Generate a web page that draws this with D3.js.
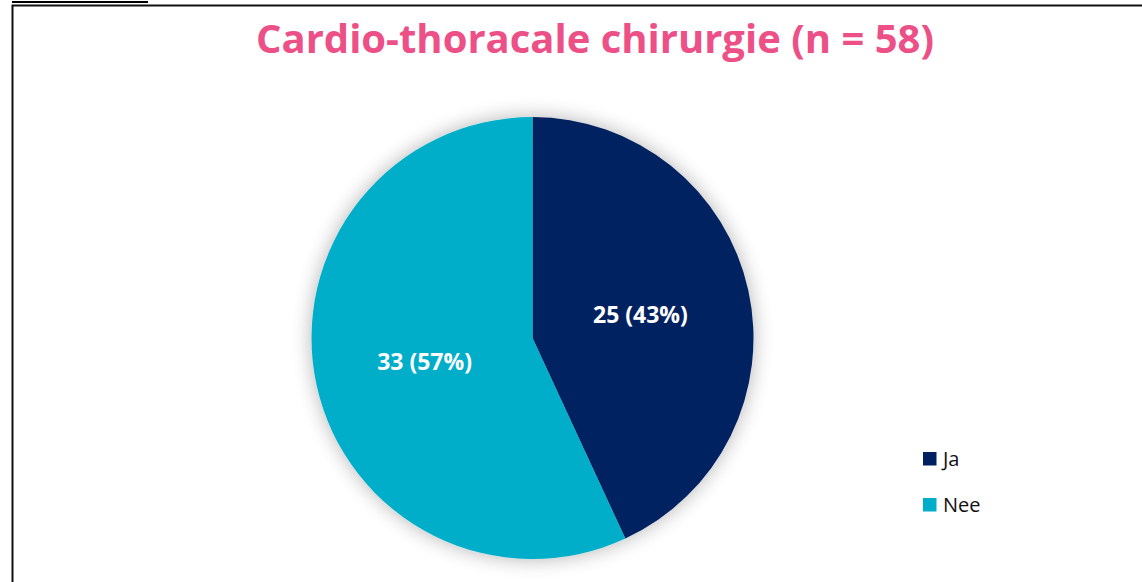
<!DOCTYPE html>
<html>
<head>
<meta charset="utf-8">
<script src="https://cdn.jsdelivr.net/npm/d3@7"></script>
<style>
  body { margin: 0; background: #fff; }
  svg { display: block; }
</style>
</head>
<body>
<script>
// chart data
var categories = ['Ja', 'Nee'];
var counts = [25, 33];
var percents = [43, 57];
var colors = ['#002060', '#00AECA'];
var title = 'Cardio-thoracale chirurgie (n = 58)';

var width = 1142, height = 582;
var cx = 532.5, cy = 338, radius = 221;
var font = '"Open Sans", "Noto Sans", sans-serif';

var svg = d3.select('body').append('svg')
  .attr('width', width).attr('height', height);

var defs = svg.append('defs');
var shadow = defs.append('filter').attr('id', 'glow')
  .attr('x', '-20%').attr('y', '-20%').attr('width', '140%').attr('height', '140%');
shadow.append('feGaussianBlur').attr('in', 'SourceAlpha').attr('stdDeviation', 10);
shadow.append('feComponentTransfer').append('feFuncA').attr('type', 'linear').attr('slope', 0.3);
var merge = shadow.append('feMerge');
merge.append('feMergeNode');
merge.append('feMergeNode').attr('in', 'SourceGraphic');

// frame lines
svg.append('line').attr('x1', 12).attr('x2', 148).attr('y1', 2).attr('y2', 2)
  .attr('stroke', '#000').attr('stroke-width', 2);
svg.append('rect').attr('x', 12.5).attr('y', 5.5).attr('width', 1140).attr('height', 600)
  .attr('fill', 'none').attr('stroke', '#111').attr('stroke-width', 2);

// title, sized to the width it has in the original
var titleText = svg.append('text')
  .attr('x', 595).attr('y', 53)
  .attr('text-anchor', 'middle')
  .attr('font-family', font)
  .attr('font-weight', 'bold')
  .attr('font-size', 40)
  .attr('fill', '#EC5087')
  .text(title);
var tw = titleText.node().getComputedTextLength();
titleText.attr('font-size', 40 * 678 / tw);

var pie = d3.pie().sort(null).value(function (d) { return d; });
var arc = d3.arc().innerRadius(0).outerRadius(radius);

var color = d3.scaleOrdinal().domain(categories).range(colors);

var g = svg.append('g').attr('transform', 'translate(' + cx + ',' + cy + ')');
var arcs = pie(counts);

g.append('g').attr('filter', 'url(#glow)')
  .selectAll('path')
  .data(arcs)
  .enter()
  .append('path')
  .attr('d', arc)
  .attr('fill', function (d, i) { return color(categories[i]); });

g.selectAll('text.lbl')
  .data(arcs)
  .enter()
  .append('text')
  .attr('class', 'lbl')
  .attr('transform', function (d) { return 'translate(' + arc.centroid(d) + ')'; })
  .attr('text-anchor', 'middle')
  .attr('dy', '0.36em')
  .attr('font-family', font)
  .attr('font-weight', 'bold')
  .attr('font-size', 23)
  .attr('fill', '#fff')
  .text(function (d, i) { return counts[i] + ' (' + percents[i] + '%)'; });

// legend
var legend = svg.append('g').attr('transform', 'translate(923,452)');
var item = legend.selectAll('g')
  .data(categories)
  .enter()
  .append('g')
  .attr('transform', function (d, i) { return 'translate(0,' + (i * 46) + ')'; });
item.append('rect').attr('width', 13.5).attr('height', 13.5)
  .attr('fill', function (d) { return color(d); });
item.append('text')
  .attr('x', 20).attr('y', 7).attr('dy', '0.36em')
  .attr('font-family', font)
  .attr('font-size', 20)
  .attr('fill', '#111')
  .text(function (d) { return d; });
</script>
</body>
</html>
